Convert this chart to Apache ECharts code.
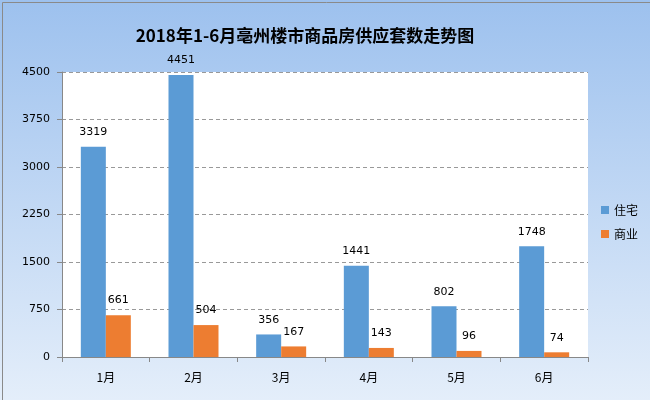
<!DOCTYPE html>
<html><head><meta charset="utf-8">
<script src="https://cdn.jsdelivr.net/npm/echarts@6/dist/echarts.min.js"></script>
<style>html,body{margin:0;padding:0;}#c{width:650px;height:400px;}</style>
</head><body><div id="c"></div>
<script>
const categories = ['1月','2月','3月','4月','5月','6月'];
const residential = [3319, 4451, 356, 1441, 802, 1748];
const commercial = [661, 504, 167, 143, 96, 74];
const yTicks = [0, 750, 1500, 2250, 3000, 3750, 4500];

const chart = echarts.init(document.getElementById('c'));
const numFont = 'DejaVu Sans, Verdana, sans-serif';
chart.setOption({
  backgroundColor: {
    type: 'linear', x: 0, y: 0, x2: 0, y2: 1,
    colorStops: [{offset: 0, color: '#9dc1ee'}, {offset: 1, color: '#e4eefa'}]
  },
  graphic: [{
    type: 'rect', left: 0, top: 0, z: 100, silent: true,
    shape: {x: 0.5, y: 0.5, width: 648, height: 398},
    style: {fill: 'none', stroke: '#8a8a8a', lineWidth: 1}
  }],
  title: {
    text: '2018年1-6月亳州楼市商品房供应套数走势图',
    left: 300, top: 22, textAlign: 'center',
    textStyle: {fontFamily: 'Noto Sans CJK SC', fontWeight: 'bold', fontSize: 17, color: '#000'}
  },
  legend: {
    orient: 'vertical', left: 596, top: 199,
    itemWidth: 8, itemHeight: 8, itemGap: 12,
    icon: 'rect',
    textStyle: {fontFamily: 'Noto Sans CJK SC', fontSize: 12, color: '#000'},
    data: ['住宅', '商业']
  },
  grid: {left: 62, right: 62, top: 72, bottom: 43, show: true, backgroundColor: '#ffffff', borderWidth: 0, containLabel: false},
  xAxis: {
    type: 'category', data: categories,
    axisLine: {lineStyle: {color: '#888', width: 1}},
    axisTick: {show: true, alignWithLabel: false, length: 5, lineStyle: {color: '#888'}},
    axisLabel: {margin: 14, fontFamily: 'Noto Sans CJK SC', fontSize: 12, color: '#000'}
  },
  yAxis: {
    type: 'value', min: 0, max: 4500, interval: 750,
    axisLine: {show: true, lineStyle: {color: '#888'}},
    axisTick: {show: true, length: 5, lineStyle: {color: '#888'}},
    axisLabel: {margin: 12, fontFamily: numFont, fontSize: 11, color: '#000',
      formatter: v => yTicks.includes(v) ? String(v) : ''},
    splitLine: {lineStyle: {color: '#999', type: [4, 3]}}
  },
  series: [
    {name: '住宅', type: 'bar', data: residential, barWidth: 25, barGap: '0%',
     itemStyle: {color: '#5b9bd5'},
     label: {show: true, position: 'top', distance: 9, fontFamily: numFont, fontSize: 11, color: '#000'}},
    {name: '商业', type: 'bar', data: commercial, barWidth: 25, barGap: '0%',
     itemStyle: {color: '#ed7d31'},
     label: {show: true, position: 'top', distance: 9, fontFamily: numFont, fontSize: 11, color: '#000'}}
  ]
});
</script></body></html>
